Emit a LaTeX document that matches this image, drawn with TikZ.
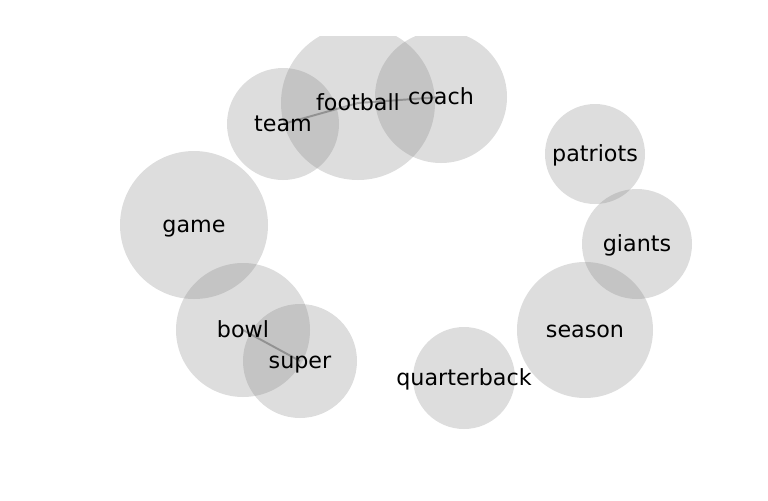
\documentclass[tikz,border=0pt]{standalone}
\usepackage{fontspec}
\setmainfont{DejaVu Sans}
\usepackage{tikz}

\begin{document}
\begin{tikzpicture}[
  x=0.72pt, y=-0.72pt,
  bubble/.style={circle, fill=gray, fill opacity=0.27, inner sep=0pt, minimum size=#1*0.72pt},
  word/.style={inner sep=0pt, anchor=base, yshift=-5.4pt, font=\fontsize{16}{18}\selectfont},
  link/.style={draw=black, draw opacity=0.25, line width=1.4pt}
]
\useasboundingbox (0,0) rectangle (768,500);
\begin{scope}
\clip (0,36) rectangle (768,500);
% bubbles
\node[bubble=154] (football) at (358,103) {};
\node[bubble=132] (coach) at (441,97) {};
\node[bubble=112] (team) at (283,124) {};
\node[bubble=100] (patriots) at (595,154) {};
\node[bubble=110] (giants) at (637,244) {};
\node[bubble=148] (game) at (194,225) {};
\node[bubble=134] (bowl) at (243,330) {};
\node[bubble=114] (super) at (300,361) {};
\node[bubble=136] (season) at (585,330) {};
\node[bubble=102] (quarterback) at (464,378) {};
% links
\draw[link] (team.center) -- (football.center);
\draw[link] (football.center) -- (coach.center);
\draw[link] (bowl.center) -- (super.center);
\end{scope}
% words
\node[word] (football-w) at (football) {football};
\node[word] (coach-w) at (coach) {coach};
\node[word] (team-w) at (team) {team};
\node[word] (patriots-w) at (patriots) {patriots};
\node[word] (giants-w) at (giants) {giants};
\node[word] (game-w) at (game) {game};
\node[word] (bowl-w) at (bowl) {bowl};
\node[word] (super-w) at (super) {super};
\node[word] (season-w) at (season) {season};
\node[word] (quarterback-w) at (quarterback) {quarterback};
\end{tikzpicture}
\end{document}
